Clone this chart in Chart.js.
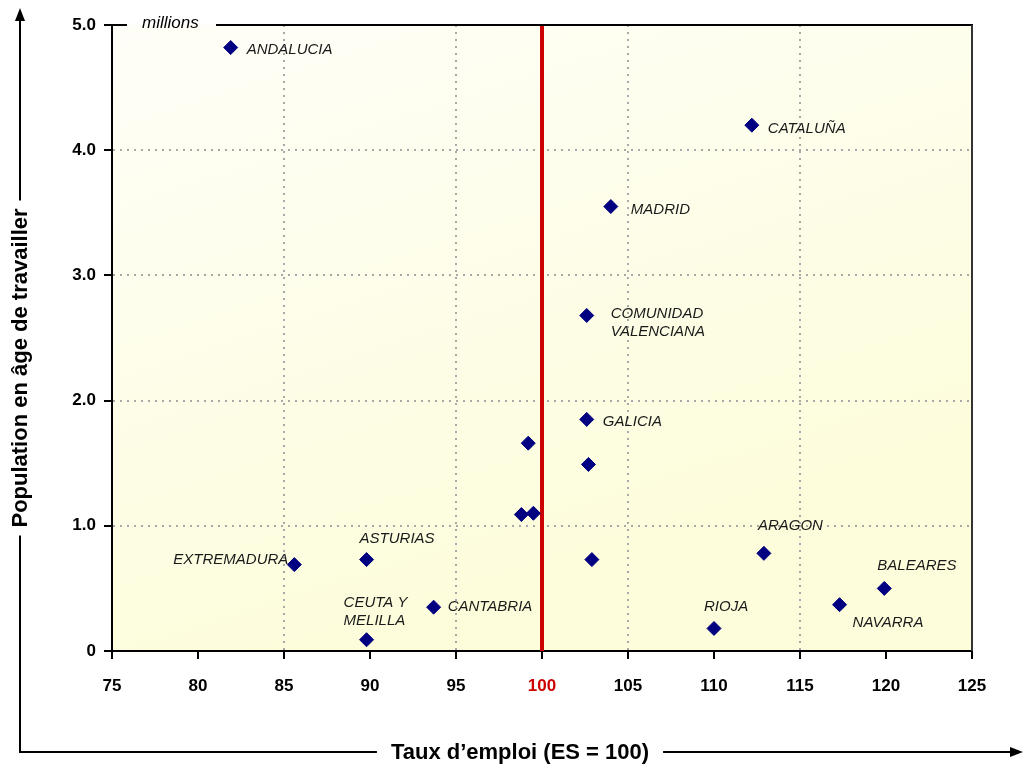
<!DOCTYPE html>
<html>
<head>
<meta charset="utf-8">
<script src="https://cdn.jsdelivr.net/npm/chart.js@4/dist/chart.umd.min.js"></script>
<style>
  html, body { margin: 0; padding: 0; background: #ffffff; }
  #wrap { width: 1024px; height: 765px; position: relative; }
</style>
</head>
<body>
<div id="wrap"><canvas id="chart"></canvas></div>
<script>
// regions of Spain, employment rate index (ES = 100) vs working-age population (millions)
const regions = ['ANDALUCIA', 'CATALUÑA', 'MADRID', 'COMUNIDAD\nVALENCIANA', 'GALICIA',
    '', '', '', '', '',
    'EXTREMADURA', 'ASTURIAS', 'CANTABRIA', 'CEUTA Y\nMELILLA', 'ARAGON', 'RIOJA', 'NAVARRA', 'BALEARES'];
const employmentRate = [81.9, 112.2, 104.0, 102.6, 102.6,
    99.2, 102.7, 98.8, 99.5, 102.9,
    85.6, 89.8, 93.7, 89.8, 112.9, 110.0, 117.3, 119.9];
const workingAgePop = [4.82, 4.20, 3.55, 2.68, 1.85,
    1.66, 1.49, 1.09, 1.10, 0.73,
    0.69, 0.73, 0.35, 0.09, 0.78, 0.18, 0.37, 0.50];
const xTicks = [75, 80, 85, 90, 95, 100, 105, 110, 115, 120, 125];
const yTicks = [0, 1, 2, 3, 4, 5];
const xGridAt = [85, 95, 105, 115];
const referenceRate = 100;

// label placement next to each marker: [dx, dy, align]
const labelOffsets = {
    'ANDALUCIA': [16, 2, 'left'],
    'CATALUÑA': [16, 4, 'left'],
    'MADRID': [20, 3, 'left'],
    'COMUNIDAD\nVALENCIANA': [24, -2, 'left'],
    'GALICIA': [16, 2, 'left'],
    'EXTREMADURA': [-6, -5, 'right'],
    'ASTURIAS': [-7, -21, 'left'],
    'CANTABRIA': [14, 0, 'left'],
    'CEUTA Y\nMELILLA': [-23, -37, 'left'],
    'ARAGON': [-6, -28, 'left'],
    'RIOJA': [-10, -22, 'left'],
    'NAVARRA': [13, 18, 'left'],
    'BALEARES': [-7, -23, 'left']
};

const FONT = "'Liberation Sans', Arial, sans-serif";

var backgroundPlugin = {
    id: 'plotBackground',
    beforeDraw: function (chart) {
        var a = chart.chartArea;
        var ctx = chart.ctx;
        var g = ctx.createLinearGradient(a.left, a.top, a.left + 200, a.bottom);
        g.addColorStop(0, '#fefef8');
        g.addColorStop(1, '#fdfddc');
        ctx.save();
        ctx.fillStyle = g;
        ctx.fillRect(a.left, a.top, a.right - a.left, a.bottom - a.top);
        ctx.restore();
    }
};

var refLinePlugin = {
    id: 'refLine',
    beforeDatasetsDraw: function (chart) {
        var a = chart.chartArea;
        var ctx = chart.ctx;
        var x = chart.scales.x.getPixelForValue(referenceRate);
        ctx.save();
        ctx.strokeStyle = '#cc0000';
        ctx.lineWidth = 4;
        ctx.beginPath();
        ctx.moveTo(x, a.top);
        ctx.lineTo(x, a.bottom);
        ctx.stroke();
        ctx.restore();
    }
};

var pointLabelPlugin = {
    id: 'pointLabels',
    afterDatasetsDraw: function (chart) {
        var ctx = chart.ctx;
        var meta = chart.getDatasetMeta(0);
        ctx.save();
        ctx.font = 'italic 15px ' + FONT;
        ctx.fillStyle = '#1a1a1a';
        ctx.textBaseline = 'middle';
        meta.data.forEach(function (pt, i) {
            var name = regions[i];
            if (!name) return;
            var off = labelOffsets[name] || [12, 0, 'left'];
            ctx.textAlign = off[2];
            name.split('\n').forEach(function (line, k) {
                ctx.fillText(line, pt.x + off[0], pt.y + off[1] + k * 18);
            });
        });
        ctx.restore();
    }
};

var framePlugin = {
    id: 'frame',
    afterDraw: function (chart) {
        var a = chart.chartArea;
        var ctx = chart.ctx;
        ctx.save();
        // top border with the unit label
        ctx.strokeStyle = '#000';
        ctx.lineWidth = 2;
        ctx.beginPath();
        ctx.moveTo(a.left, a.top);
        ctx.lineTo(a.left + 15, a.top);
        ctx.moveTo(a.left + 104, a.top);
        ctx.lineTo(a.right + 1, a.top);
        ctx.stroke();
        ctx.strokeStyle = '#333';
        ctx.beginPath();
        ctx.moveTo(a.right, a.top);
        ctx.lineTo(a.right, a.bottom);
        ctx.stroke();
        ctx.font = 'italic 17px ' + FONT;
        ctx.fillStyle = '#000';
        ctx.textAlign = 'left';
        ctx.textBaseline = 'middle';
        ctx.fillText('millions', a.left + 30, a.top - 2);

        // axis titles on arrows
        var cornerX = 20, cornerY = 752;
        ctx.font = 'bold 22px ' + FONT;
        ctx.lineWidth = 2;
        ctx.strokeStyle = '#000';
        ctx.fillStyle = '#000';

        var yTitle = 'Population en âge de travailler';
        var yMid = 368;
        var yHalf = ctx.measureText(yTitle).width / 2 + 8;
        ctx.beginPath();
        ctx.moveTo(cornerX, cornerY);
        ctx.lineTo(cornerX, yMid + yHalf);
        ctx.moveTo(cornerX, yMid - yHalf);
        ctx.lineTo(cornerX, 18);
        ctx.stroke();
        ctx.beginPath();
        ctx.moveTo(cornerX, 8);
        ctx.lineTo(cornerX - 5, 21);
        ctx.lineTo(cornerX + 5, 21);
        ctx.closePath();
        ctx.fill();

        ctx.save();
        ctx.translate(cornerX + 1, yMid);
        ctx.rotate(-Math.PI / 2);
        ctx.textAlign = 'center';
        ctx.textBaseline = 'middle';
        ctx.fillText(yTitle, 0, 0);
        ctx.restore();

        var xTitle = 'Taux d\u2019emploi (ES = 100)';
        var xMid = 520;
        var xHalf = ctx.measureText(xTitle).width / 2 + 14;
        ctx.beginPath();
        ctx.moveTo(cornerX - 1, cornerY);
        ctx.lineTo(xMid - xHalf, cornerY);
        ctx.moveTo(xMid + xHalf, cornerY);
        ctx.lineTo(1012, cornerY);
        ctx.stroke();
        ctx.beginPath();
        ctx.moveTo(1023, cornerY);
        ctx.lineTo(1010, cornerY - 5);
        ctx.lineTo(1010, cornerY + 5);
        ctx.closePath();
        ctx.fill();
        ctx.textAlign = 'center';
        ctx.textBaseline = 'middle';
        ctx.fillText(xTitle, xMid, cornerY + 1);
        ctx.restore();
    }
};

var points = employmentRate.map(function (x, i) {
    return { x: x, y: workingAgePop[i] };
});

new Chart(document.getElementById('chart'), {
    type: 'scatter',
    data: {
        datasets: [{
            data: points,
            pointStyle: 'rectRot',
            pointRadius: 7,
            backgroundColor: '#000080',
            borderColor: '#000080',
            borderWidth: 1
        }]
    },
    options: {
        responsive: true,
        maintainAspectRatio: false,
        animation: false,
        layout: { padding: { left: 0, right: 52, top: 25, bottom: 54 } },
        plugins: {
            legend: { display: false },
            tooltip: { enabled: false }
        },
        scales: {
            x: {
                type: 'linear',
                min: 75,
                max: 125,
                afterBuildTicks: function (scale) {
                    scale.ticks = xTicks.map(function (v) { return { value: v }; });
                },
                afterFit: function (scale) { scale.height = 60; },
                ticks: {
                    padding: 17,
                    color: function (c) { return c.tick && c.tick.value === referenceRate ? '#cc0000' : '#000'; },
                    font: { family: FONT, size: 17, weight: 'bold' }
                },
                grid: {
                    color: function (c) {
                        return c.tick && xGridAt.indexOf(c.tick.value) >= 0 ? '#a8a8a8' : 'rgba(0,0,0,0)';
                    },
                    lineWidth: 2,
                    tickColor: '#000',
                    tickWidth: 2,
                    tickLength: 8
                },
                border: { display: true, color: '#000', width: 2, dash: [2, 5] }
            },
            y: {
                min: 0,
                max: 5,
                afterBuildTicks: function (scale) {
                    scale.ticks = yTicks.map(function (v) { return { value: v }; });
                },
                afterFit: function (scale) { scale.width = 112; },
                ticks: {
                    padding: 8,
                    color: '#000',
                    font: { family: FONT, size: 17, weight: 'bold' },
                    callback: function (v) { return v === 0 ? '0' : v.toFixed(1); }
                },
                grid: {
                    color: function (c) {
                        return c.tick && c.tick.value > 0 && c.tick.value < 5 ? '#a8a8a8' : 'rgba(0,0,0,0)';
                    },
                    lineWidth: 2,
                    tickColor: '#000',
                    tickWidth: 2,
                    tickLength: 8
                },
                border: { display: true, color: '#000', width: 2, dash: [2, 5] }
            }
        }
    },
    plugins: [backgroundPlugin, refLinePlugin, pointLabelPlugin, framePlugin]
});
</script>
</body>
</html>
